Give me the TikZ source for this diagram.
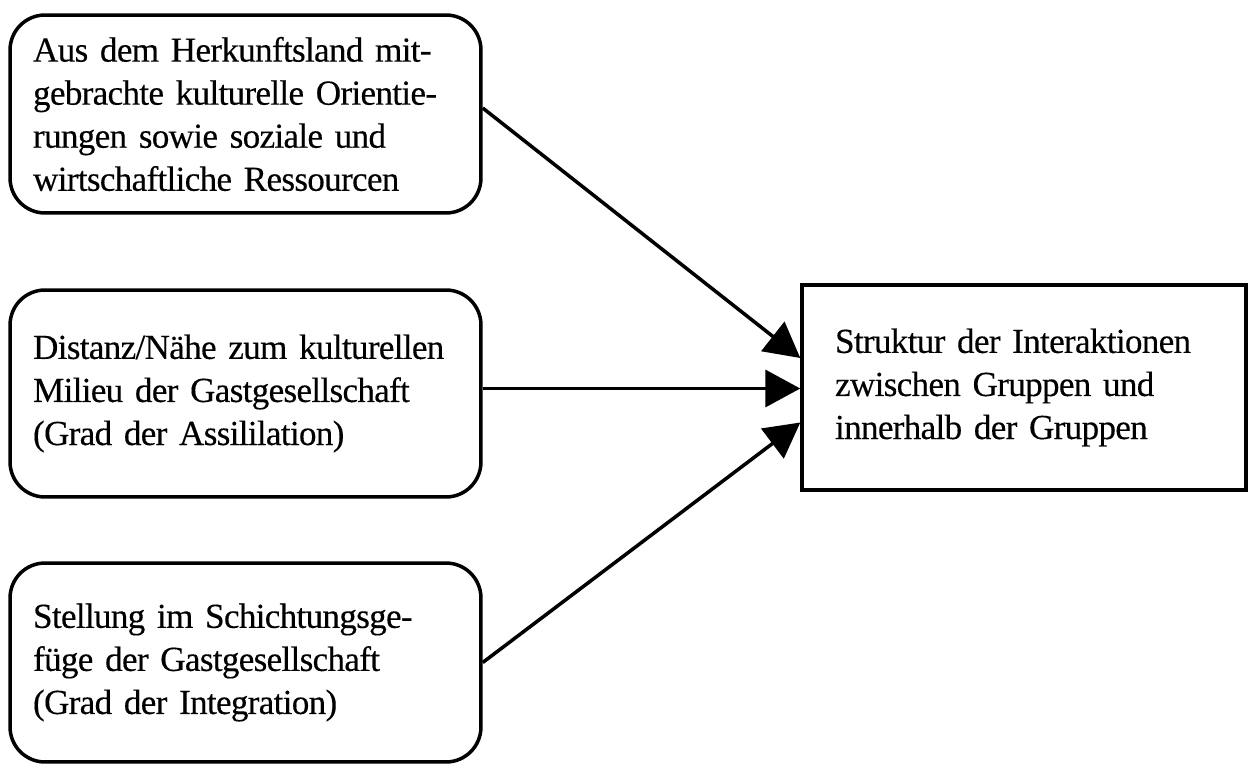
\documentclass[tikz,border=0pt]{standalone}
\usepackage{fontspec}
\setmainfont{Liberation Serif}[WordSpace=0.85,LetterSpace=-2,FakeBold=0.3]
\usetikzlibrary{arrows.meta}

\begin{document}
\begin{tikzpicture}[
  x=0.02cm,y=-0.02cm,
  font=\fontsize{20}{24.5}\selectfont,
  ursache/.style={draw,line width=2pt,rounded corners=0.7cm,align=left,text width=8.5cm,inner xsep=0.46cm,inner ysep=0pt},
  wirkung/.style={draw,line width=2pt,align=left,text width=7.56cm,inner xsep=0.66cm,inner ysep=0pt},
  pfeil/.style={-{Triangle[length=0.7cm,width=0.74cm]},line width=2pt}
]
\useasboundingbox (0,0) rectangle (1250,764);

\node[ursache,minimum height=3.96cm] (herkunft) at (245.5,114) {Aus dem Herkunftsland mit-\\gebrachte kulturelle Orientie-\\rungen sowie soziale und\\wirtschaftliche Ressourcen};
\node[ursache,minimum height=4.14cm] (distanz) at (245.5,393.5) {Distanz/Nähe zum kulturellen\\Milieu der Gastgesellschaft\\(Grad der Assililation)};
\node[ursache,minimum height=3.98cm] (stellung) at (245.5,662.5) {Stellung im Schichtungsge-\\füge der Gastgesellschaft\\(Grad der Integration)};

\node[wirkung,minimum height=4.1cm] (struktur) at (1024,387.5) {Struktur der Interaktionen\\zwischen Gruppen und\\innerhalb der Gruppen};

\draw[pfeil] ([yshift=0.12cm]herkunft.east) -- ([yshift=0.59cm]struktur.west);
\draw[pfeil] ([yshift=0.1cm]distanz.east) -- ([yshift=0.1cm]distanz.east -| struktur.west);
\draw[pfeil] (stellung.east) -- ([yshift=-0.7cm]struktur.west);
\end{tikzpicture}
\end{document}
